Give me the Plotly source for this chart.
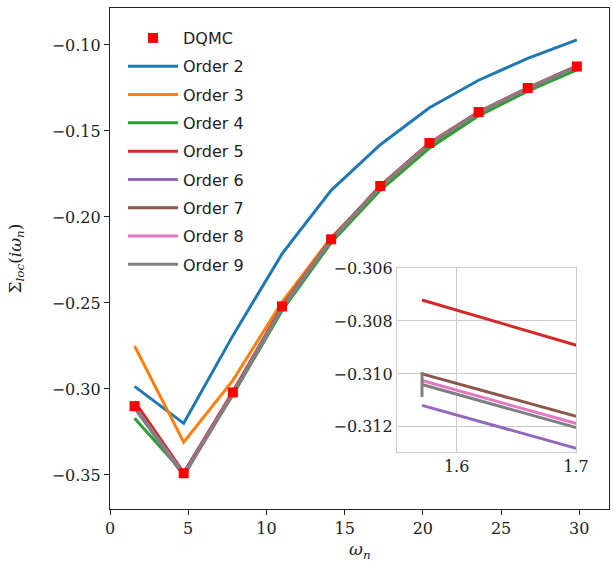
import numpy as np
import plotly.graph_objects as go

omega = [1.571, 4.712, 7.854, 10.996, 14.137, 17.279, 20.420, 23.562, 26.704, 29.845]

dqmc = [-0.3100, -0.3490, -0.3020, -0.2520, -0.2130, -0.1820, -0.1570, -0.1390, -0.1250, -0.1125]

order2 = [-0.2985, -0.3200, -0.2690, -0.2215, -0.1845, -0.1580, -0.1365, -0.1205, -0.1078, -0.0970]
order3 = [-0.2750, -0.3310, -0.2950, -0.2495, -0.2120, -0.1830, -0.1585, -0.1400, -0.1260, -0.1140]
order4 = [-0.3170, -0.3490, -0.3035, -0.2545, -0.2150, -0.1845, -0.1600, -0.1412, -0.1268, -0.1145]
order5 = [-0.30721, -0.3487, -0.3015, -0.2520, -0.2128, -0.1818, -0.1570, -0.1388, -0.1249, -0.1122]
order6 = [-0.31119, -0.3506, -0.3030, -0.2530, -0.2135, -0.1825, -0.1578, -0.1394, -0.1254, -0.1127]
order7 = [-0.31000, -0.3490, -0.3025, -0.2527, -0.2132, -0.1822, -0.1575, -0.1392, -0.1252, -0.1125]
order8 = [-0.31025, -0.3497, -0.3027, -0.2528, -0.2133, -0.1823, -0.1576, -0.1393, -0.1253, -0.1126]
order9 = [-0.31040, -0.3500, -0.3028, -0.2529, -0.2134, -0.1824, -0.1577, -0.1393, -0.1253, -0.1126]
order9_err = [0.00047, 0.0004, 0.0003, 0.0003, 0.0002, 0.0002, 0.0002, 0.0002, 0.0002, 0.0002]

orders = [order2, order3, order4, order5, order6, order7, order8, order9]
names = ["Order 2", "Order 3", "Order 4", "Order 5", "Order 6", "Order 7", "Order 8", "Order 9"]
colors = ["#1f77b4", "#ff7f0e", "#2ca02c", "#d62728", "#9467bd", "#8c564b", "#e377c2", "#7f7f7f"]

fig = go.Figure()

for i, (vals, name, col) in enumerate(zip(orders, names, colors)):
    err = dict(type="data", array=order9_err, visible=True, color=col, thickness=3, width=0) if name == "Order 9" else None
    fig.add_trace(go.Scatter(x=omega, y=vals, mode="lines", name=name,
                             line=dict(color=col, width=3), error_y=err,
                             legendgroup=name, legendrank=i + 2,
                             xaxis="x", yaxis="y"))

fig.add_trace(go.Scatter(x=omega, y=dqmc, mode="markers", name="DQMC",
                         marker=dict(symbol="square", color="#ff0000", size=10),
                         legendgroup="DQMC", legendrank=1, xaxis="x", yaxis="y"))

# inset
for i, (vals, name, col) in enumerate(zip(orders, names, colors)):
    err = dict(type="data", array=order9_err, visible=True, color=col, thickness=3, width=0) if name == "Order 9" else None
    fig.add_trace(go.Scatter(x=omega, y=vals, mode="lines", name=name,
                             line=dict(color=col, width=3), error_y=err,
                             showlegend=False, xaxis="x2", yaxis="y2", cliponaxis=True))

serif = "DejaVu Serif"
fig.update_layout(
    width=613, height=561,
    margin=dict(l=110, r=4, t=8, b=52, autoexpand=False),
    paper_bgcolor="white", plot_bgcolor="white",
    showlegend=True,
    legend=dict(x=0.026, y=0.974, xanchor="left", yanchor="top",
                font=dict(family="DejaVu Sans", size=16, color="#222222"),
                bgcolor="rgba(0,0,0,0)", tracegroupgap=4.5, itemwidth=50),
    xaxis=dict(domain=[0, 1], range=[0, 31.9], tickvals=[0, 5, 10, 15, 20, 25, 30],
               ticks="outside", ticklen=5, tickwidth=1.2, tickcolor="#222",
               showline=True, linecolor="#222", linewidth=1.2, mirror=True,
               showgrid=False, zeroline=False, automargin=False,
               tickfont=dict(family=serif, size=16, color="#222")),
    yaxis=dict(domain=[0, 1], range=[-0.3698, -0.0785],
               tickvals=[-0.35, -0.30, -0.25, -0.20, -0.15, -0.10], tickformat=".2f",
               ticks="outside", ticklen=5, tickwidth=1.2, tickcolor="#222",
               showline=True, linecolor="#222", linewidth=1.2, mirror=True,
               showgrid=False, zeroline=False, automargin=False,
               tickfont=dict(family=serif, size=16, color="#222")),
    xaxis2=dict(domain=[0.575, 0.934], anchor="y2", range=[1.55, 1.70], tickvals=[1.6, 1.7],
                ticks="", showline=True, linecolor="#cccccc", linewidth=1, mirror=True,
                showgrid=True, gridcolor="#cccccc", gridwidth=1, zeroline=False, automargin=False,
                tickfont=dict(family=serif, size=16, color="#222")),
    yaxis2=dict(domain=[0.1138, 0.481], anchor="x2", range=[-0.31295, -0.3060],
                tickvals=[-0.312, -0.310, -0.308, -0.306], tickformat=".3f",
                ticks="", showline=True, linecolor="#cccccc", linewidth=1, mirror=True,
                showgrid=True, gridcolor="#cccccc", gridwidth=1, zeroline=False, automargin=False,
                tickfont=dict(family=serif, size=16, color="#222")),
    annotations=[
        dict(text="<i>ω<sub>n</sub></i>", xref="paper", yref="paper", x=0.5, y=0,
             xanchor="center", yanchor="top", yshift=-28, showarrow=False,
             font=dict(family=serif, size=17, color="#222")),
        dict(text="Σ<sub><i>loc</i></sub>(<i>iω<sub>n</sub></i>)", xref="paper", yref="paper",
             x=0, y=0.5, xanchor="center", yanchor="middle", xshift=-94, textangle=-90,
             showarrow=False, font=dict(family=serif, size=17, color="#222")),
    ],
)

fig.add_shape(type="rect", xref="x2 domain", yref="y2 domain", x0=0, x1=1, y0=0, y1=1,
              fillcolor="white", line=dict(width=0), layer="below")

fig.write_html("out.html", config={"displayModeBar": False},
               post_script="document.body.style.margin='0px';document.body.style.overflow='hidden';")
